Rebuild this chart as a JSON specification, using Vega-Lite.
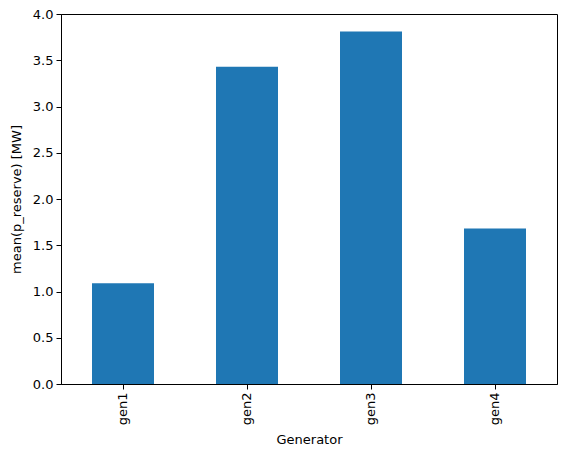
{
  "$schema": "https://vega.github.io/schema/vega-lite/v6.json",
  "width": 496,
  "height": 370,
  "autosize": {"type": "none"},
  "padding": {"left": 61, "top": 14, "right": 10, "bottom": 74},
  "background": "white",
  "data": {
    "values": [
      {"generator": "gen1", "p_reserve": 1.09},
      {"generator": "gen2", "p_reserve": 3.43},
      {"generator": "gen3", "p_reserve": 3.81},
      {"generator": "gen4", "p_reserve": 1.68}
    ]
  },
  "mark": {"type": "bar", "color": "#1f77b4"},
  "encoding": {
    "x": {
      "field": "generator",
      "type": "nominal",
      "title": "Generator",
      "scale": {"paddingInner": 0.5, "paddingOuter": 0.25},
      "axis": {"labelAngle": -90, "labelAlign": "right", "labelBaseline": "middle", "titlePadding": 9}
    },
    "y": {
      "field": "p_reserve",
      "type": "quantitative",
      "title": "mean(p_reserve) [MW]",
      "scale": {"domain": [0, 4.0], "nice": false},
      "axis": {"values": [0, 0.5, 1, 1.5, 2, 2.5, 3, 3.5, 4], "format": ".1f", "titlePadding": 9}
    }
  },
  "config": {
    "font": "DejaVu Sans",
    "view": {"stroke": "black", "strokeWidth": 1},
    "axis": {
      "grid": false,
      "domainColor": "black",
      "tickColor": "black",
      "tickSize": 5,
      "labelFont": "DejaVu Sans",
      "labelFontSize": 13,
      "labelColor": "black",
      "labelPadding": 3,
      "titleFont": "DejaVu Sans",
      "titleFontSize": 13,
      "titleFontWeight": "normal",
      "titleColor": "black"
    }
  }
}
